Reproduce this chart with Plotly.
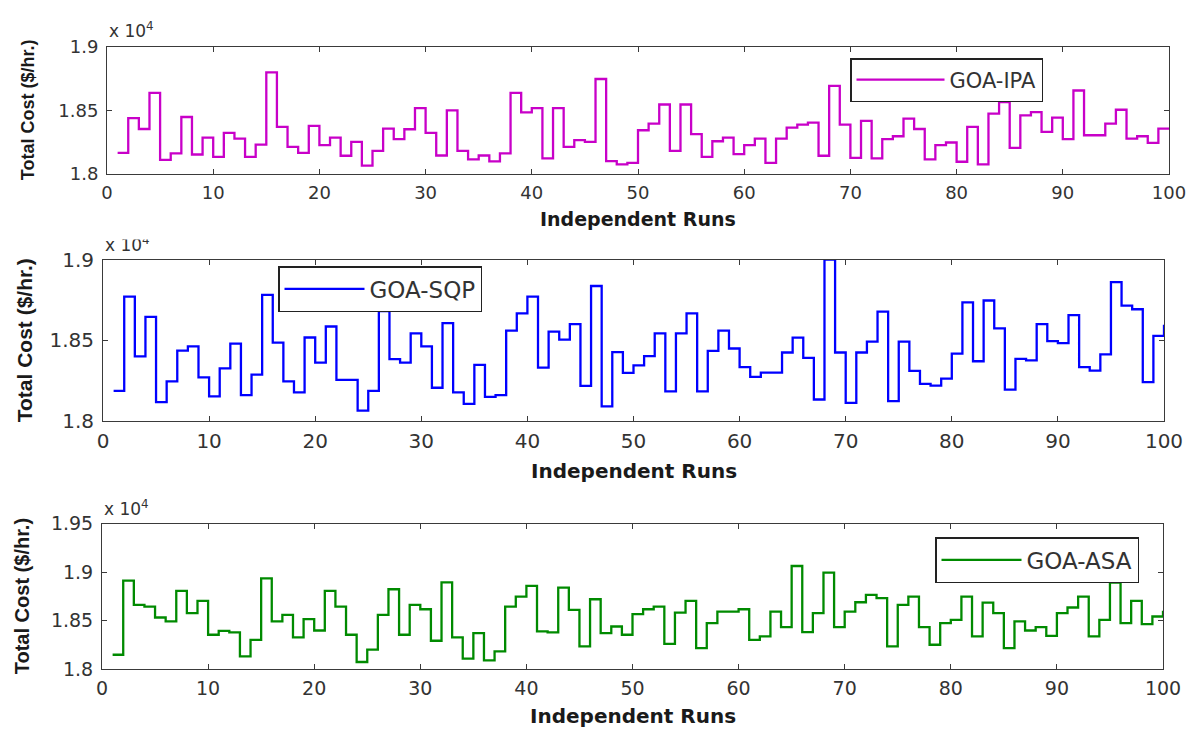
import plotly.graph_objects as go

runs = list(range(1, 101))

goa_ipa = [18166, 18439, 18353, 18636, 18110, 18161, 18447, 18153, 18286, 18135,
           18322, 18278, 18135, 18231, 18797, 18369, 18213, 18166, 18377, 18226,
           18286, 18143, 18252, 18065, 18182, 18356, 18273, 18351, 18517, 18322,
           18145, 18499, 18182, 18114, 18145, 18099, 18161, 18636, 18483, 18517,
           18122, 18517, 18213, 18265, 18252, 18745, 18101, 18075, 18088, 18343,
           18395, 18545, 18182, 18545, 18312, 18135, 18257, 18286, 18156, 18226,
           18278, 18088, 18278, 18364, 18387, 18403, 18143, 18691, 18387, 18127,
           18416, 18122, 18273, 18296, 18434, 18353, 18114, 18226, 18247, 18096,
           18369, 18075, 18473, 18564, 18205, 18460, 18486, 18330, 18442, 18273,
           18655, 18304, 18304, 18395, 18504, 18278, 18296, 18244, 18356, 18360]

goa_sqp = [18187, 18770, 18400, 18645, 18117, 18245, 18436, 18462, 18270, 18153,
           18326, 18479, 18160, 18287, 18781, 18485, 18245, 18177, 18517, 18362,
           18585, 18255, 18255, 18064, 18187, 18681, 18383, 18362, 18543, 18462,
           18206, 18606, 18177, 18106, 18347, 18149, 18160, 18560, 18666, 18770,
           18330, 18553, 18504, 18600, 18217, 18836, 18091, 18426, 18298, 18344,
           18402, 18542, 18183, 18542, 18667, 18183, 18434, 18559, 18449, 18333,
           18273, 18299, 18299, 18424, 18516, 18391, 18133, 19000, 18424, 18112,
           18424, 18492, 18677, 18123, 18492, 18310, 18230, 18219, 18262, 18417,
           18735, 18370, 18746, 18574, 18194, 18385, 18376, 18600, 18495, 18482,
           18656, 18333, 18312, 18413, 18860, 18714, 18692, 18241, 18527, 18596]

goa_asa = [18147, 18911, 18661, 18644, 18531, 18490, 18805, 18575, 18702, 18353,
           18394, 18377, 18130, 18301, 18935, 18490, 18558, 18325, 18514, 18397,
           18805, 18644, 18353, 18072, 18199, 18558, 18822, 18353, 18661, 18616,
           18291, 18894, 18325, 18106, 18370, 18089, 18182, 18644, 18747, 18856,
           18387, 18377, 18839, 18610, 18233, 18719, 18370, 18438, 18353, 18565,
           18616, 18644, 18260, 18582, 18702, 18216, 18473, 18592, 18592, 18616,
           18301, 18336, 18592, 18432, 19062, 18380, 18575, 18993, 18432, 18592,
           18688, 18764, 18730, 18233, 18661, 18747, 18432, 18250, 18473, 18507,
           18747, 18336, 18685, 18575, 18216, 18490, 18397, 18432, 18342, 18575,
           18634, 18747, 18336, 18507, 18890, 18473, 18702, 18462, 18541, 18600]

series_names = ["GOA-IPA", "GOA-SQP", "GOA-ASA"]
series_values = [goa_ipa, goa_sqp, goa_asa]
series_colors = ["#C800C8", "#0000FF", "#008A00"]

x_tickvals = [0, 10, 20, 30, 40, 50, 60, 70, 80, 90, 100]
x_ticktext = ["0", "10", "20", "30", "40", "50", "60", "70", "80", "90", "100"]
y_tickvals = [[18000, 18500, 19000], [18000, 18500, 19000], [18000, 18500, 19000, 19500]]
y_ticktext = [["1.8", "1.85", "1.9"], ["1.8", "1.85", "1.9"], ["1.8", "1.85", "1.9", "1.95"]]
y_ranges = [[18000, 19000], [18000, 19000], [18000, 19500]]

x_title = "Independent Runs"
y_title = "Total Cost ($/hr.)"
scale_label = "x 10<sup>4</sup>"

# the page places the figure 8 px from the top-left corner of the window
OFF = 8
W, H = 1194 - OFF, 729 - OFF


def fx(px):
    return (px - OFF) / W


def fy(py):
    return 1 - (py - OFF) / H


# pixel boxes (window coordinates) of the three axes: (left, right, top, bottom)
boxes = [(107, 1169, 46.5, 174), (103, 1164, 259.5, 421), (102, 1163, 523.5, 669)]
tick_sizes = [18, 20, 19]
xt_sizes = [19, 20, 20]
yt_sizes = [18, 21, 20]
xt_offsets = [45, 50, 47]
yt_x = [28, 24, 22]
legend_boxes = [(850, 58), (278, 266), (935, 537)]
legend_sizes = [21, 23, 23]
legend_itemwidths = [88, 80, 80]

fig = go.Figure()
annotations = []
axis_color = "#3a3a3a"
text_color = "#333333"

for i in range(3):
    n = "" if i == 0 else str(i + 1)
    leg = "legend" if i == 0 else "legend" + str(i + 1)
    fig.add_trace(go.Scatter(
        x=runs, y=series_values[i], mode="lines", line_shape="hv",
        line=dict(color=series_colors[i], width=2.3),
        name=series_names[i], xaxis="x" + n, yaxis="y" + n, legend=leg,
    ))
    l, r, t, b = boxes[i]
    xd = [fx(l), fx(r)]
    yd = [fy(b), fy(t)]
    common = dict(showline=True, linecolor=axis_color, linewidth=1, mirror="ticks",
                  ticks="inside", ticklen=5, tickcolor=axis_color, showgrid=False,
                  zeroline=False, automargin=False, ticklabeloverflow="allow",
                  tickfont=dict(family="DejaVu Sans", size=tick_sizes[i], color=text_color))
    fig.update_layout(**{
        "xaxis" + n: dict(domain=xd, range=[0, 100], tickvals=x_tickvals, ticktext=x_ticktext,
                          anchor="y" + n, ticklabelstandoff=2, **common),
        "yaxis" + n: dict(domain=yd, range=y_ranges[i], tickvals=y_tickvals[i],
                          ticktext=y_ticktext[i], anchor="x" + n, ticklabelstandoff=4, **common),
    })
    lx, ly = legend_boxes[i]
    fig.update_layout(**{leg: dict(
        x=fx(lx), y=fy(ly), xanchor="left", yanchor="top", xref="paper", yref="paper",
        bgcolor="white", bordercolor="#222222", borderwidth=1.5,
        font=dict(family="DejaVu Sans", size=legend_sizes[i], color=text_color),
        itemwidth=legend_itemwidths[i], tracegroupgap=0,
    )})
    # x-axis title
    annotations.append(dict(
        text="<b>" + x_title + "</b>", x=fx((l + r) / 2), y=fy(b + xt_offsets[i]),
        xref="paper", yref="paper", xanchor="center", yanchor="middle", showarrow=False,
        font=dict(family="DejaVu Sans", size=xt_sizes[i], color="#1a1a1a")))
    # y-axis title
    annotations.append(dict(
        text="<b>" + y_title + "</b>", x=fx(yt_x[i]), y=fy((t + b) / 2),
        xref="paper", yref="paper", xanchor="center", yanchor="middle", textangle=-90,
        showarrow=False,
        font=dict(family="Liberation Sans", size=yt_sizes[i], color="#1a1a1a")))
    # scale factor label
    annotations.append(dict(
        text=scale_label, x=fx(l), y=fy(t - 3), xref="paper", yref="paper",
        xanchor="left", yanchor="bottom", showarrow=False,
        font=dict(family="DejaVu Sans", size=17, color=text_color)))

# the middle panel's scale label is clipped at its top in the original figure
annotations.append(dict(
    text=" ", x=fx(95), y=fy(221), xref="paper", yref="paper", xanchor="left",
    yanchor="top", showarrow=False, width=90, height=15, bgcolor="white",
    font=dict(size=4)))

fig.update_layout(
    width=W, height=H, margin=dict(l=0, r=0, t=0, b=0, autoexpand=False),
    paper_bgcolor="white", plot_bgcolor="white", showlegend=True,
    annotations=annotations,
)

fig.write_html("out.html")
